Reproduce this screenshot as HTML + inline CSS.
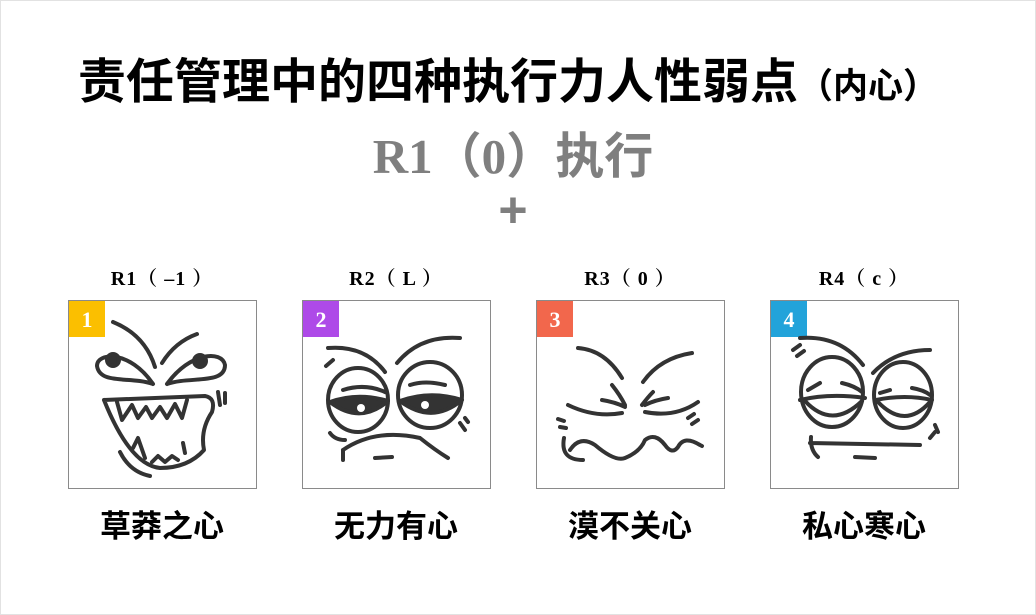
<!DOCTYPE html>
<html><head><meta charset="utf-8"><style>
body{margin:0;width:1036px;height:615px;background:#fff;overflow:hidden;position:relative;font-family:"Liberation Serif","Noto Serif CJK SC",serif}
.frame{position:absolute;left:0;top:0;width:1034px;height:613px;border:1px solid #e2e2e2}
.t{position:absolute;white-space:nowrap;font-weight:bold;text-align:center}
.box{position:absolute;top:300px;width:189px;height:189px;border:1px solid #8a8a8a;box-sizing:border-box}
.badge{position:absolute;left:0;top:0;width:36px;height:36px;color:#fff;font:bold 22px "Liberation Serif",serif;text-align:center;line-height:38px}
.lb{font-size:20px;letter-spacing:1px}
.bl{font-size:31px;font-family:'Liberation Sans','Noto Sans CJK SC',sans-serif}
</style></head><body>
<div class="frame"></div>
<div class="t" style="left:0;width:1016px;top:42px;font-size:48px;font-family:'Liberation Sans','Noto Sans CJK SC',sans-serif;color:#000">责任管理中的四种执行力人性弱点<span style="font-size:35px">（内心）</span></div>
<div class="t" style="left:0;width:1026px;top:127px;font-size:49px;line-height:60px;color:#7f7f7f;font-family:'Liberation Serif','Noto Sans CJK SC',serif">R1（0）<span style="font-family:'Liberation Sans','Noto Sans CJK SC',sans-serif">执行</span></div>
<div class="t" style="left:0;width:1026px;top:181px;font-size:50px;color:#7f7f7f;font-family:'Liberation Sans',sans-serif">+</div>
<div class="t lb" style="left:62px;width:200px;top:262px">R1（ –1 ）</div>
<div class="t lb" style="left:296px;width:200px;top:262px">R2（ L ）</div>
<div class="t lb" style="left:530px;width:200px;top:262px">R3（ 0 ）</div>
<div class="t lb" style="left:764px;width:200px;top:262px">R4（ c ）</div>
<div class="t bl" style="left:62px;width:200px;top:501px">草莽之心</div>
<div class="t bl" style="left:296px;width:200px;top:501px">无力有心</div>
<div class="t bl" style="left:530px;width:200px;top:501px">漠不关心</div>
<div class="t bl" style="left:764px;width:200px;top:501px">私心寒心</div>
<div class="box" style="left:68px"><div class="badge" style="background:#fbbf00">1</div></div>
<div class="box" style="left:302px"><div class="badge" style="background:#ae4ae8">2</div></div>
<div class="box" style="left:536px"><div class="badge" style="background:#f2674c">3</div></div>
<div class="box" style="left:770px"><div class="badge" style="background:#22a3da">4</div></div>
<svg width="1036" height="615" style="position:absolute;left:0;top:0" fill="none" stroke="#333" stroke-width="4" stroke-linecap="round" stroke-linejoin="round">
<!-- face 1 -->
<path d="M113,322 Q145,335 155,367"/><path d="M197,334 Q175,342 162,363"/>
<path d="M153,384 C130,376 100,385 97,366 C97,352 130,350 153,384"/>
<path d="M167,384 C190,376 225,385 225,365 C222,350 190,352 167,384"/>
<circle cx="113" cy="360" r="6" fill="#333"/><circle cx="200" cy="361" r="6" fill="#333"/>
<path d="M104,400 L205,396 Q216,398 212,412 Q200,430 204,450 Q188,468 160,468 Q130,465 104,400"/>
<path d="M117,402 L122,420 L132,405 L138,418 L146,407 L152,418 L160,407 L167,418 L175,404 L182,418 L187,400"/>
<path d="M133,448 L138,438 L145,458 M183,443 L185,453 M152,462 L158,456 L165,462 L172,456 L178,460"/>
<path d="M120,452 Q130,472 150,476"/><path d="M218,392 L220,405 M225,393 L225,403"/>
<!-- face 2 -->
<path d="M328,348 Q365,345 385,372"/><path d="M397,363 Q420,335 460,338"/>
<path d="M326,366 L333,360"/>
<ellipse cx="358" cy="400" rx="30" ry="32"/><ellipse cx="430" cy="395" rx="32" ry="33"/>
<path d="M330,402 Q358,392 388,401 Q360,425 330,402Z" fill="#333"/><circle cx="361" cy="408" r="4" fill="#fff" stroke="none"/>
<path d="M400,401 Q430,390 462,400 Q432,425 400,401Z" fill="#333"/><circle cx="425" cy="405" r="4" fill="#fff" stroke="none"/>
<path d="M343,390 Q365,383 385,392 M410,385 Q425,380 445,385"/>
<path d="M343,450 Q375,428 420,438 Q435,450 448,458 M343,450 L343,460"/>
<path d="M375,458 L392,457 M330,433 Q335,440 345,440 M460,423 L465,430 M465,418 L468,422"/>
<!-- face 3 -->
<path d="M578,348 Q605,350 622,378"/><path d="M692,353 Q660,358 643,382"/>
<path d="M568,405 Q595,418 622,413 M602,400 Q615,402 625,407 M612,385 Q620,395 625,405"/>
<path d="M645,412 Q675,418 698,402 M645,405 Q655,400 668,398 M642,405 Q648,397 653,392"/>
<path d="M564,438 Q560,460 583,460"/>
<path d="M570,450 Q580,435 595,445 Q615,462 625,458 Q640,452 645,440 Q655,432 665,445 Q672,455 678,447 Q684,435 700,445 L702,446"/>
<path d="M558,419 L564,421 M560,427 L566,428 M688,418 L694,414 M692,424 L698,420"/>
<!-- face 4 -->
<path d="M800,338 Q840,335 863,365"/><path d="M873,373 Q895,350 930,350"/>
<path d="M793,350 L800,345 M797,356 L804,351"/>
<ellipse cx="832" cy="392" rx="31" ry="35"/><ellipse cx="903" cy="395" rx="29" ry="33"/>
<path d="M800,400 Q830,393 865,398 M805,401 Q832,430 862,401 M808,390 L820,383 M842,383 Q855,386 862,392"/>
<path d="M876,400 Q905,394 932,400 M878,402 Q905,430 930,402 M880,393 L890,390 M912,388 Q924,390 930,395"/>
<path d="M810,443 L920,445 M811,437 Q810,450 818,457 M855,457 L875,458 M935,425 L938,432 M935,432 L930,438"/>
</svg>
</body></html>
